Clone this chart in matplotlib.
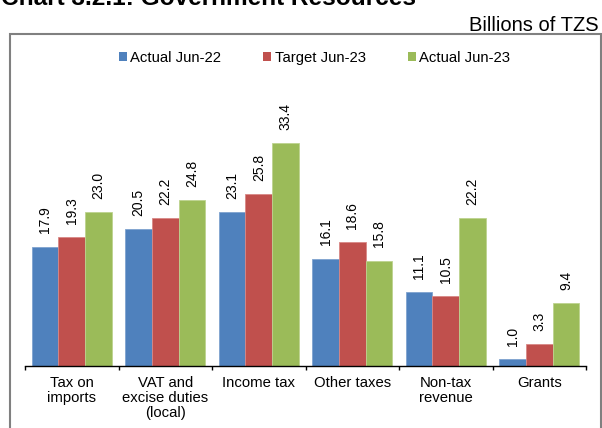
import numpy as np
import matplotlib

matplotlib.use("Agg")
import matplotlib.pyplot as plt
from matplotlib.patches import Patch, Rectangle

plt.rcParams["font.family"] = ["Liberation Sans", "DejaVu Sans"]

categories = ["Tax on\nimports", "VAT and\nexcise duties\n(local)", "Income tax",
              "Other taxes", "Non-tax\nrevenue", "Grants"]
series_names = ["Actual Jun-22", "Target Jun-23", "Actual Jun-23"]
actual_jun22 = [17.9, 20.5, 23.1, 16.1, 11.1, 1.0]
target_jun23 = [19.3, 22.2, 25.8, 18.6, 10.5, 3.3]
actual_jun23 = [23.0, 24.8, 33.4, 15.8, 22.2, 9.4]

colors = ["#4F81BD", "#C0504D", "#9BBB59"]
edges = ["#7FA3CF", "#D88886", "#BDD38F"]

W, H = 602, 428
fig = plt.figure(figsize=(W / 100, H / 100), dpi=100)

# plot area in pixel terms: baseline at y=366, x from 25 to 586
ax = fig.add_axes([25 / W, (H - 366) / H, (586 - 25) / W, 267 / H])

x = np.arange(len(categories))
bw = 0.2856
values = [actual_jun22, target_jun23, actual_jun23]
for i, (vals, c, ec) in enumerate(zip(values, colors, edges)):
    pos = x + (i - 1) * bw
    ax.bar(pos, vals, width=bw, color=c, edgecolor=ec, linewidth=0.6, zorder=2)
    for xp, v in zip(pos, vals):
        ax.annotate(f"{v:.1f}", (xp, v), xytext=(0, 9.4), textcoords="offset points",
                    rotation=90, ha="center", va="bottom", fontsize=10, color="#000000")

ax.set_xlim(-0.5, len(categories) - 0.5)
ax.set_ylim(0, 40)
for side in ("left", "right", "top"):
    ax.spines[side].set_visible(False)
ax.spines["bottom"].set_color("#000000")
ax.spines["bottom"].set_linewidth(1.0)
ax.set_yticks([])

# ticks sit on the category boundaries, labels in the middle
ax.set_xticks(np.arange(-0.5, len(categories), 1.0))
ax.set_xticklabels([])
ax.set_xticks(x, minor=True)
ax.set_xticklabels(categories, minor=True, fontsize=10.7, linespacing=1.05, va="top")
ax.tick_params(axis="x", which="major", direction="out", length=3, width=1, color="#000000")
ax.tick_params(axis="x", which="minor", length=0, pad=7.5)

handles = [Patch(facecolor=c, edgecolor="none") for c in colors]
fig.legend(handles, series_names, loc="center", bbox_to_anchor=(314.5 / W, 1 - 58 / H),
           ncol=3, frameon=False, fontsize=10.7, handlelength=0.55, handleheight=0.55,
           handletextpad=0.25, columnspacing=2.8, borderpad=0)

# outer frame (bottom edge runs past the image)
fig.patches.append(Rectangle((9.7 / W, -0.1), (601 - 9.7) / W, 1.1 - 33.7 / H,
                             transform=fig.transFigure, fill=False,
                             edgecolor="#808080", linewidth=1.5))

fig.text(1 / W, 1 - 5 / H, "Chart 3.2.1: Government Resources", fontsize=17.6,
         fontweight="bold", ha="left", va="baseline")
fig.text(599 / W, 1 - 30.7 / H, "Billions of TZS", fontsize=14.5, ha="right", va="baseline")

fig.savefig("out.png", dpi=100)
